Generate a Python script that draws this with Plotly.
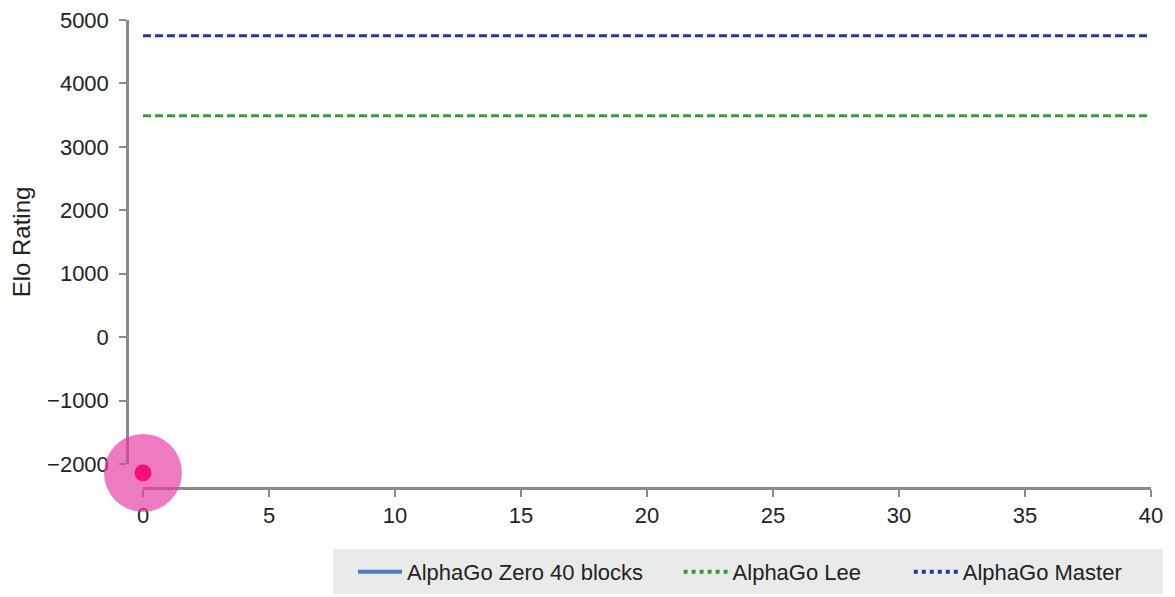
import plotly.graph_objects as go

# Data
days = [0]
zero_elo = [-2140]
ref_x = [0, 40]
lee_elo = [3490, 3490]
master_elo = [4750, 4750]
x_ticks = [0, 5, 10, 15, 20, 25, 30, 35, 40]
y_ticks = [-2000, -1000, 0, 1000, 2000, 3000, 4000, 5000]
legend_names = ["AlphaGo Zero 40 blocks", "AlphaGo Lee", "AlphaGo Master"]

W, H = 1175, 597
OFF = 8  # page body margin
ML, MT = 127 - OFF, 20 - OFF
plot_bottom = 488 - OFF
plot_right = 1151 - OFF
MB = H - plot_bottom
MR = W - plot_right
plot_w = W - ML - MR
plot_h = H - MT - MB
y_bottom_px = 464 - OFF
d = (plot_bottom - y_bottom_px) / plot_h
y_lo, y_hi = -2000, 5000
span_px = plot_h * (1 - d)
y2_lo = y_lo - (y_hi - y_lo) * (plot_h * d) / span_px


def px_x(sx):
    return (sx - OFF - ML) / plot_w


def px_y(sy):
    return (plot_bottom - (sy - OFF)) / plot_h


fig = go.Figure()

fig.add_trace(go.Scatter(x=ref_x, y=lee_elo, mode="lines", name="AlphaGo Lee",
                         line=dict(color="#3a9a3a", width=3, dash="8px,4px"), showlegend=False))
fig.add_trace(go.Scatter(x=ref_x, y=master_elo, mode="lines", name="AlphaGo Master",
                         line=dict(color="#22399a", width=3, dash="8px,4px"), showlegend=False))
# halo + head marker on the full-height companion axis
fig.add_trace(go.Scatter(x=days, y=zero_elo, mode="markers", showlegend=False, cliponaxis=False,
                         yaxis="y2",
                         marker=dict(size=78, color="rgba(230,60,160,0.68)", line=dict(width=0))))
fig.add_trace(go.Scatter(x=days, y=zero_elo, mode="markers", showlegend=False, cliponaxis=False,
                         yaxis="y2",
                         marker=dict(size=17, color="#f2107c", line=dict(width=0))))
# legend entries
pad = ["\u00a0" * 5, "\u00a0" * 7, ""]
fig.add_trace(go.Scatter(x=[None], y=[None], mode="lines", name=legend_names[0] + pad[0],
                         line=dict(color="#4f7dc0", width=4)))
fig.add_trace(go.Scatter(x=[None], y=[None], mode="lines", name=legend_names[1] + pad[1],
                         line=dict(color="#3a9a3a", width=4, dash="dot")))
fig.add_trace(go.Scatter(x=[None], y=[None], mode="lines", name=legend_names[2] + pad[2],
                         line=dict(color="#22399a", width=4, dash="dot")))

axis_common = dict(ticks="outside", ticklen=7, tickwidth=2, tickcolor="#8a8a8a",
                   showline=True, linecolor="#8a8a8a", linewidth=2.5, showgrid=False,
                   zeroline=False, tickfont=dict(size=22, color="#222"),
                   ticklabeloverflow="allow")

fig.update_layout(
    width=W, height=H,
    margin=dict(l=ML, r=MR, t=MT, b=MB, autoexpand=False),
    paper_bgcolor="white", plot_bgcolor="rgba(0,0,0,0)",
    font=dict(family="Arial, Liberation Sans, sans-serif", size=22, color="#222"),
    xaxis=dict(range=[0, 40], domain=[16 / plot_w, 1], anchor="free", position=0,
               tickvals=x_ticks, **axis_common),
    yaxis=dict(range=[y_lo, y_hi], domain=[d, 1], anchor="free", position=0,
               tickvals=y_ticks, ticklabelstandoff=6, **axis_common,
               title=dict(text="Elo Rating", font=dict(size=24), standoff=20)),
    yaxis2=dict(range=[y2_lo, y_hi], domain=[0, 1], visible=False, anchor="x"),
    legend=dict(orientation="h", xref="container", yref="container",
                x=(358 - OFF - 5) / W, xanchor="left", y=(H - (572 - OFF)) / H, yanchor="middle",
                bgcolor="rgba(0,0,0,0)", font=dict(size=22), itemwidth=44),
    shapes=[dict(type="rect", xref="paper", yref="paper", layer="below",
                 x0=px_x(333), x1=px_x(1163), y0=px_y(594), y1=px_y(549),
                 fillcolor="#e8ebea", line=dict(width=0))],
)

fig.write_html("out.html")
